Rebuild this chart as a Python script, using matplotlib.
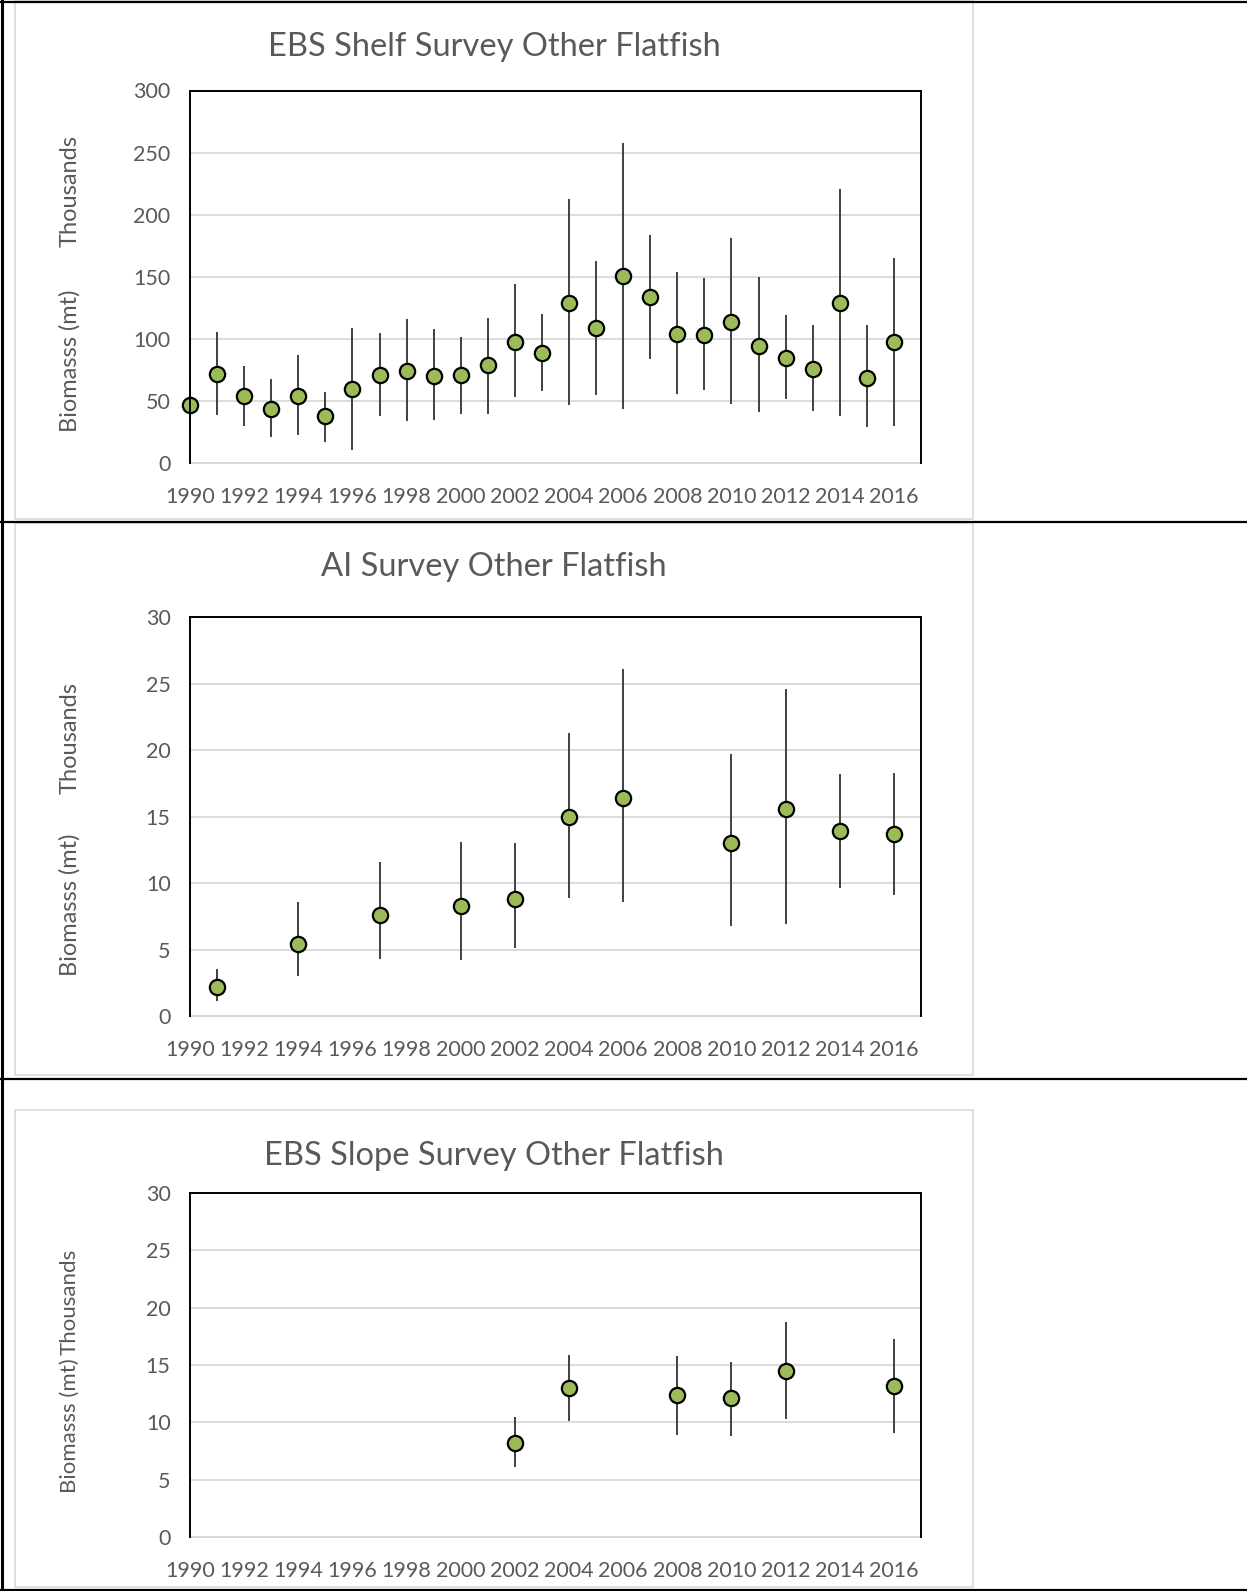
import numpy as np
import matplotlib
matplotlib.use("Agg")
import matplotlib.pyplot as plt
from matplotlib.lines import Line2D
from matplotlib.patches import Rectangle

plt.rcParams['font.family'] = ['Lato', 'DejaVu Sans']

# EBS shelf survey (thousands of t)
shelf_years = list(range(1990, 2017))
shelf_est = [47, 72, 54, 44, 54, 38, 60, 71, 74, 70, 71, 79, 98, 89, 129,
             109, 151, 134, 104, 103, 114, 94, 85, 76, 129, 69, 98]
shelf_lo = [27, 39, 30, 21, 23, 17, 11, 38, 34, 35, 40, 40, 53, 58, 47,
            55, 44, 84, 56, 59, 48, 41, 52, 42, 38, 29, 30]
shelf_hi = [67, 106, 78, 68, 87, 57, 109, 105, 116, 108, 102, 117, 144, 120, 213,
            163, 258, 184, 154, 149, 181, 150, 119, 111, 221, 111, 165]

# AI survey
ai_years = [1991, 1994, 1997, 2000, 2002, 2004, 2006, 2010, 2012, 2014, 2016]
ai_est = [2.2, 5.4, 7.6, 8.3, 8.8, 15.0, 16.4, 13.0, 15.6, 13.9, 13.7]
ai_lo = [1.15, 3.0, 4.3, 4.2, 5.1, 8.9, 8.6, 6.8, 6.9, 9.6, 9.1]
ai_hi = [3.5, 8.6, 11.6, 13.1, 13.0, 21.3, 26.1, 19.7, 24.6, 18.2, 18.3]

# EBS slope survey
slope_years = [2002, 2004, 2008, 2010, 2012, 2016]
slope_est = [8.2, 13.0, 12.4, 12.1, 14.5, 13.2]
slope_lo = [6.1, 10.1, 8.9, 8.8, 10.3, 9.1]
slope_hi = [10.5, 15.9, 15.8, 15.3, 18.7, 17.3]

x_ticks = list(range(1990, 2017, 2))

W, H = 1247, 1591
fig = plt.figure(figsize=(W / 100, H / 100), dpi=100)
fig.patch.set_facecolor('white')

TXT = '#595959'
GRID = '#D9D9D9'
GREEN = '#9BBB59'


def fx(x):
    return x / W


def fy(y):
    return 1 - y / H


# table lines (black) and chart area borders (light gray)
def hline(y, x0, x1, color='black', lw=1.6):
    fig.add_artist(Line2D([fx(x0), fx(x1)], [fy(y), fy(y)], color=color, lw=lw,
                          transform=fig.transFigure))


def vline(x, y0, y1, color='black', lw=1.6):
    fig.add_artist(Line2D([fx(x), fx(x)], [fy(y0), fy(y1)], color=color, lw=lw,
                          transform=fig.transFigure))


for (top, bot) in [(1, 519), (523, 1075), (1110, 1587)]:
    fig.add_artist(Rectangle((fx(15), fy(bot)), (973 - 15) / W, (bot - top) / H,
                             fill=False, edgecolor=GRID, lw=1.2,
                             transform=fig.transFigure))

hline(1.5, 0, W)
hline(521.5, 0, W)
hline(1078.5, 0, W)
hline(1589.5, 0, W)
vline(2, 0, H, lw=2.2)

panels = [
    dict(title='EBS Shelf Survey Other Flatfish', years=shelf_years, est=shelf_est,
         lo=shelf_lo, hi=shelf_hi, top=90.5, bot=463.3, ymax=300, ystep=50,
         title_y=47, thou_y=191, bio_y=361, lab_fs=17),
    dict(title='AI Survey Other Flatfish', years=ai_years, est=ai_est,
         lo=ai_lo, hi=ai_hi, top=617.3, bot=1016, ymax=30, ystep=5,
         title_y=567, thou_y=738, bio_y=905, lab_fs=17),
    dict(title='EBS Slope Survey Other Flatfish', years=slope_years, est=slope_est,
         lo=slope_lo, hi=slope_hi, top=1192.7, bot=1537.3, ymax=30, ystep=5,
         title_y=1156, thou_y=1302, bio_y=1426, lab_fs=16),
]

left, right = 190, 921

for p in panels:
    ax = fig.add_axes([fx(left), fy(p['bot']), (right - left) / W, (p['bot'] - p['top']) / H])
    yrs = np.array(p['years'])
    est = np.array(p['est'])
    lo = np.array(p['lo'])
    hi = np.array(p['hi'])
    ax.vlines(yrs, lo, hi, color='#404040', lw=1.4, zorder=3)
    ax.plot(yrs, est, 'o', ms=11, mfc=GREEN, mec='black', mew=1.6, zorder=4, clip_on=False)

    ax.set_xlim(1990, 2017)
    ax.set_ylim(0, p['ymax'])
    ax.set_xticks(x_ticks)
    ax.set_xticklabels([str(t) for t in x_ticks])
    ax.set_yticks(np.arange(0, p['ymax'] + 1, p['ystep']))
    ax.grid(axis='y', color=GRID, lw=1.3)
    ax.set_axisbelow(True)
    ax.tick_params(length=0, labelsize=15.5, labelcolor=TXT)
    ax.tick_params(axis='x', pad=17)
    ax.tick_params(axis='y', pad=14)
    for s in ['left', 'top', 'right']:
        ax.spines[s].set_color('black')
        ax.spines[s].set_linewidth(1.4)
        ax.spines[s].set_zorder(5)
    ax.spines['bottom'].set_color(GRID)
    ax.spines['bottom'].set_linewidth(1.4)

    fig.text(fx(494), fy(p['title_y']), p['title'], ha='center', va='center',
             fontsize=23.5, color=TXT)
    fig.text(fx(70), fy(p['thou_y']), 'Thousands', ha='center', va='center',
             rotation=90, fontsize=p['lab_fs'], color=TXT)
    fig.text(fx(70), fy(p['bio_y']), 'Biomasss (mt)', ha='center', va='center',
             rotation=90, fontsize=p['lab_fs'], color=TXT)

fig.savefig('out.png', dpi=100, facecolor='white')
